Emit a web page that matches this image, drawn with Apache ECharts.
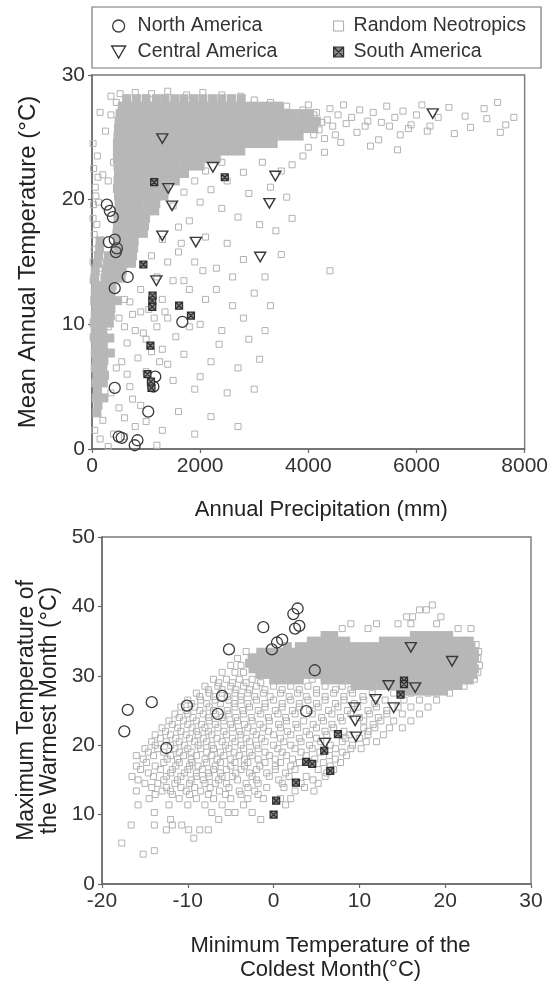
<!DOCTYPE html>
<html><head><meta charset="utf-8">
<script src="https://cdn.jsdelivr.net/npm/echarts@6/dist/echarts.min.js"></script>
<style>html,body{margin:0;padding:0;background:#fff}#c{width:551px;height:983px}</style>
</head><body><div id="c"></div>
<script>
// ===== TOP PANEL: Annual Precipitation (mm) vs Mean Annual Temperature (°C) =====
const topNorthAmerica = [[275,19.6],[385,18.6],[330,19.1],[310,16.6],[420,16.8],[460,16.1],[440,15.8],[660,13.8],[420,12.9],[1670,10.2],[420,4.9],[1170,5.8],[1135,5.0],[1040,3.0],[495,1.0],[550,0.9],[840,0.7],[790,0.3]];
const topCentralAmerica = [[1300,24.9],[2235,22.6],[1410,20.9],[1480,19.5],[1300,17.1],[1920,16.6],[3280,19.7],[3390,21.9],[3110,15.4],[1190,13.5],[6300,26.9]];
const topSouthAmerica = [[1150,21.4],[2455,21.8],[950,14.8],[1115,11.9],[1115,11.4],[1120,12.3],[1610,11.5],[1830,10.7],[1080,8.3],[1025,6.0],[1100,4.9],[1090,5.4]];
// dense core of Random Neotropics, rows: [temperature, precipitation values...]
const topNeoCoreRows = [
 [28.1,640,820,1000,1190,1350,1530,1700,1880,2050,2230,2400,2580,2760],
 [27.5,560,710,860,1010,1160,1320,1470,1620,1780,1930,2080,2240,2390,2540,2700,2850,3000,3160,3310,3460],
 [26.9,520,670,820,970,1130,1280,1430,1580,1740,1890,2040,2190,2350,2500,2650,2800,2960,3110,3260,3410,3560,3720,3880,4020],
 [26.3,500,650,800,950,1110,1260,1410,1560,1720,1870,2020,2170,2330,2480,2630,2780,2940,3090,3240,3390,3550,3700,3850,4000,4150],
 [25.7,490,640,790,940,1100,1250,1400,1550,1710,1860,2010,2160,2320,2470,2620,2770,2930,3080,3230,3380,3540,3690,3840,3960,4100],
 [25.1,480,630,780,930,1090,1240,1390,1540,1700,1850,2000,2150,2310,2460,2610,2760,2920,3070,3220,3370,3530,3680,3830],
 [24.5,470,620,770,920,1080,1230,1380,1530,1690,1840,1990,2140,2300,2450,2600,2750,2910,3060,3200,3350],
 [23.9,470,620,770,920,1080,1230,1380,1530,1690,1840,1990,2140,2300,2450,2600,2750],
 [23.3,470,620,770,920,1080,1230,1380,1530,1690,1840,1990,2140,2300],
 [22.7,480,630,780,930,1090,1240,1390,1540,1700,1850,2000],
 [22.1,490,640,790,940,1100,1250,1400,1550,1710],
 [21.5,480,630,780,930,1090,1240,1390,1540],
 [20.9,470,600,750,900,1060,1210,1360],
 [20.3,490,580,730,880,1040,1190,1330],
 [19.7,500,620,720,870,1030,1180],
 [19.1,490,600,700,850,1010,1160],
 [18.5,480,600,680,830,990],
 [17.9,470,560,660,810,970],
 [17.3,460,540,640,790,950],
 [16.7,150,480,630,780],
 [16.1,140,480,620,770],
 [15.5,120,300,450,600,750],
 [14.9,100,280,430,580,730],
 [14.3,60,260,410,560],
 [13.7,50,240,390,540],
 [13.1,70,220,370],
 [12.5,60,200,350],
 [11.9,50,190,330,470],
 [11.3,70,210,350],
 [10.7,60,200,340],
 [10.1,40,180,320],
 [9.5,60,200],
 [8.9,50,190,330],
 [8.3,70,210],
 [7.7,60,200,340],
 [7.1,80,220],
 [6.5,60,200],
 [5.9,90,230],
 [5.3,70,210],
 [4.7,100],
 [4.1,80,220],
 [3.5,110],
 [2.9,90]
];
const topNeoScatter = [[350,28.3],[450,27.8],[520,28.5],[800,28.6],[1100,28.5],[1400,28.7],[1750,28.4],[2050,28.6],[2400,28.4],[2750,28.3],[3000,28.0],[3300,27.8],[3600,27.5],[3900,27.2],[4100,26.8],[4200,25.6],[4350,26.4],[4500,25.2],[4700,26.1],[4900,25.4],[5100,26.3],[5300,24.8],[5500,25.9],[5700,25.2],[5900,26.0],[6200,25.5],[6400,26.6],[6700,25.3],[7000,25.8],[7250,27.3],[7300,26.5],[7550,25.4],[7800,26.6],[4000,24.2],[3900,23.5],[4300,23.8],[3700,22.8],[3500,22.3],[3150,23.0],[2800,22.2],[2500,21.5],[2900,20.5],[3300,21.0],[3600,20.2],[2200,20.8],[2000,19.8],[2400,19.3],[2700,18.6],[3100,18.0],[3400,17.5],[1800,18.3],[2100,17.0],[2500,16.5],[1600,15.8],[1900,15.0],[2300,14.5],[2800,15.2],[3200,13.8],[4400,14.3],[1500,13.5],[1800,12.8],[2100,12.0],[2600,11.5],[3000,12.5],[1400,10.5],[2000,10.0],[2400,9.5],[2900,8.8],[3200,9.5],[1300,8.0],[1700,7.6],[2200,7.0],[2700,6.5],[3100,7.2],[1500,5.5],[1900,4.8],[2500,4.5],[3000,4.8],[1600,3.0],[2200,2.6],[2700,1.8],[1300,1.5],[1900,1.2],[1200,0.3],[800,1.8],[600,2.5],[900,3.5],[700,5.0],[1000,6.2],[850,7.3],[1100,7.8],[650,8.5],[950,9.3],[1200,9.8],[750,10.8],[1050,11.2],[1300,12.0],[600,12.0],[900,12.8],[1200,13.8],[1400,15.0],[1100,15.5],[1300,16.8],[1600,17.8],[1500,19.5],[1700,20.6],[1900,21.5],[2100,22.3],[2400,23.0],[300,0.2],[150,0.8],[50,1.5],[200,2.3],[400,1.2],[500,3.3],[100,4.2],[350,4.5],[250,6.0],[450,6.5],[80,7.5],[20,9.0],[300,9.8],[500,10.5],[60,11.5],[20,13.5],[150,14.5],[40,16.0],[20,18.5],[120,19.8],[60,21.0],[30,22.5],[100,23.5],[200,22.0],[300,21.5],[400,23.0],[20,24.5],[250,25.5],[350,26.8],[150,27.0],[40,17.2],[90,18.0],[30,19.6],[70,20.3],[110,21.8],[20,15.0],[60,12.8],[550,7.0],[650,6.0],[800,9.5],[700,11.8],[600,9.8],[900,11.0],[1000,8.8],[1150,10.5],[1250,7.0],[750,4.0],[1000,2.2],[600,1.0],[1400,6.8],[1350,11.0],[1550,9.0],[1700,13.5],[1650,16.5],[1800,9.8],[2050,14.3],[2300,12.8],[2600,13.8],[2800,10.5],[2000,5.8],[2350,8.4],[3300,11.5],[3500,15.6],[3700,18.5],
 [4000,27.6],[4150,27.0],[4250,26.2],[4400,27.3],[4550,26.8],[4650,27.6],[4800,26.6],[4950,27.2],[5050,25.9],[5200,27.0],[5350,26.2],[5450,27.5],[5600,26.6],[5750,27.1],[5850,25.7],[6000,26.8],[6100,27.6],[6250,25.9],[4100,25.2],[4300,24.9],[4600,24.6],[3950,25.8],[4450,25.9],[5150,24.3],[5650,24.0],[6600,27.4],[6900,26.7],[7500,27.8],[7650,26.0]];

// ===== BOTTOM PANEL: Min Temp of Coldest Month vs Max Temp of Warmest Month =====
const botNorthAmerica = [[-17.0,25.1],[-17.4,22.0],[-14.2,26.2],[-10.1,25.7],[-6.0,27.1],[-6.5,24.5],[-5.2,33.8],[-1.2,37.0],[-0.2,33.8],[0.4,34.8],[1.0,35.2],[2.3,38.9],[2.8,39.7],[2.5,36.8],[3.0,37.2],[4.8,30.8],[3.8,24.9],[-12.5,19.6]];
const botCentralAmerica = [[16.0,34.1],[20.8,32.1],[13.4,28.6],[16.5,28.3],[11.9,26.6],[14.0,25.4],[9.4,25.4],[9.5,23.5],[9.6,21.2],[6.0,20.3]];
const botSouthAmerica = [[15.2,29.3],[15.2,28.8],[14.8,27.3],[7.5,21.6],[5.9,19.2],[3.8,17.6],[4.5,17.3],[6.6,16.3],[2.6,14.6],[0.3,12.0],[0.0,10.0]];
// dense core rows: [max temp, min temp values...]
const botNeoCoreRows = [
 [35.8,6.0,7.0,16.4,17.4,18.4,19.4,20.4],
 [35.0,4.4,5.4,6.4,7.4,8.4,12.8,13.8,14.8,15.8,16.8,17.8,18.8,19.8,20.8,21.8,22.8],
 [34.2,1.6,3.0,4.0,5.0,6.0,7.0,8.0,9.0,10.0,11.0,12.0,13.0,14.0,15.0,16.0,17.0,18.0,19.0,20.0,21.0,22.0,23.0],
 [33.4,-1.5,-0.5,0.5,1.5,2.5,3.5,4.5,5.5,6.5,7.5,8.5,9.5,10.5,11.5,12.5,13.5,14.5,15.5,16.5,17.5,18.5,19.5,20.5,21.5,22.5,23.4],
 [32.6,-2.5,-1.5,-0.5,0.5,1.5,2.5,3.5,4.5,5.5,6.5,7.5,8.5,9.5,10.5,11.5,12.5,13.5,14.5,15.5,16.5,17.5,18.5,19.5,20.5,21.5,22.5,23.4],
 [31.8,-2.8,-1.8,-0.8,0.2,1.2,2.2,3.2,4.2,5.2,6.2,7.2,8.2,9.2,10.2,11.2,12.2,13.2,14.2,15.2,16.2,17.2,18.2,19.2,20.2,21.2,22.2,23.2],
 [31.0,-2.4,-1.4,-0.4,0.6,1.6,2.6,3.6,4.6,5.6,6.6,7.6,8.6,9.6,10.6,11.6,12.6,13.6,14.6,15.6,16.6,17.6,18.6,19.6,20.6,21.6,22.6,23.4],
 [30.2,-1.6,-0.6,0.4,1.4,2.4,3.4,4.4,5.4,6.4,7.4,8.4,9.4,10.4,11.4,12.4,13.4,14.4,15.4,16.4,17.4,18.4,19.4,20.4,21.4,22.4,23.2],
 [29.4,0.0,1.0,2.0,3.0,6.0,7.0,8.0,9.0,10.0,11.0,12.0,13.0,14.0,15.0,16.0,17.0,18.0,19.0,20.0,21.0,22.0,22.8],
 [28.6,9.5,10.5,11.5,12.5,13.5,14.5,15.5,16.5,17.5,18.5,19.5,20.5,21.5],
 [27.8,14.8,15.8,16.8,17.8,18.8,19.8]
];
// scattered Random Neotropics rows: [max temp, min temp values...]
const botNeoScatterRows = [
 [4.3,-15.2],[4.8,-13.9],[5.9,-17.7],[6.6,-9.3],
 [7.8,-12.5,-9.9,-8.6,-7.6],
 [8.5,-16.6,-11.8,-13.9,-10.7],
 [9.3,-6.4,-1.5,-12.0],
 [10.3,-13.9,-7.2,-5.3,-4.5,-2.5],
 [11.4,-15.8,-12.2,-10.0,-8.0,-6.0,-3.5,1.4],
 [12.3,-14.5,-11.0,-9.0,-7.0,-5.0,-3.0,-1.2,0.8,2.0],
 [12.9,-13.8,-11.8,-9.8,-7.6,-5.6,-3.8,-1.8],
 [13.4,-16.0,-13.0,-12.0,-10.2,-8.5,-6.3,-4.0,-2.2,2.5,4.7],
 [13.9,-14.2,-12.5,-10.8,-9.2,-7.4,-5.2,-3.0,-0.8,1.2,3.6],
 [14.5,-15.0,-13.5,-11.5,-9.8,-8.0,-6.8,-5.5,-3.2,-1.8,1.0,3.2,5.2],
 [15.0,-15.8,-12.8,-11.2,-9.6,-8.2,-6.4,-4.2,-2.0,0.6,4.6],
 [15.5,-16.5,-14.0,-12.5,-10.8,-9.0,-7.5,-6.0,-4.8,-2.5,-0.5,1.8,3.8,6.0],
 [16.0,-14.6,-12.0,-10.4,-9.0,-7.6,-6.2,-4.4,-2.8,-0.8,1.4,6.2],
 [16.5,-15.5,-13.2,-11.8,-10.0,-8.3,-7.0,-5.5,-3.8,-2.0,0.2,2.5,5.2,7.0],
 [17.0,-16.0,-13.8,-11.4,-9.8,-8.8,-6.8,-5.0,-3.4,-1.6,0.2,2.0,6.6],
 [17.5,-14.8,-12.8,-11.0,-9.5,-7.8,-6.2,-4.5,-3.0,-1.0,0.8,3.0,5.8,7.8],
 [18.0,-15.2,-12.4,-11.2,-9.6,-8.0,-6.6,-5.0,-3.4,-1.8,0.2,2.2,4.8,7.2],
 [18.5,-16.0,-14.0,-12.0,-10.5,-9.0,-7.2,-5.8,-4.0,-2.5,-0.5,1.5,3.8,6.5,8.5],
 [19.0,-14.6,-12.8,-11.0,-9.6,-7.8,-6.2,-4.6,-2.8,-1.0,1.0,3.2,5.4,8.0],
 [19.5,-15.0,-13.5,-11.5,-10.0,-8.5,-7.0,-5.2,-3.5,-1.8,0.5,2.5,4.5,7.2,9.0,10.2],
 [20.0,-13.8,-12.0,-10.4,-8.8,-7.2,-5.6,-3.8,-2.0,0.0,2.0,4.2,6.6,9.2],
 [20.5,-14.2,-12.5,-11.0,-9.2,-7.8,-6.0,-4.5,-2.8,-1.0,1.2,3.2,5.5,8.0,10.8,12.0],
 [21.0,-13.2,-11.4,-9.8,-8.2,-6.6,-4.8,-3.2,-1.4,0.8,3.0,5.0,8.4,10.0],
 [21.5,-13.8,-12.0,-10.2,-8.8,-7.2,-5.5,-3.8,-2.0,0.0,2.0,4.2,6.2,8.8,11.0,12.8],
 [22.0,-12.6,-10.8,-9.0,-7.6,-5.8,-4.0,-2.4,-0.6,1.6,3.8,6.0,8.2,11.0],
 [22.5,-13.0,-11.2,-9.5,-8.0,-6.5,-4.8,-3.0,-1.2,0.8,2.8,5.0,7.0,10.5,11.8,13.5,15.0],
 [23.0,-11.8,-10.0,-8.4,-6.8,-5.0,-3.4,-1.6,0.6,2.6,4.6,6.8,11.6],
 [23.5,-12.2,-10.5,-9.0,-7.5,-5.8,-4.2,-2.5,-0.5,1.5,3.5,5.8,8.0,10.5,12.5,14.0,16.0],
 [24.0,-11.0,-9.4,-7.6,-6.0,-4.4,-2.6,-0.6,1.4,5.6,7.8,10.0,12.2],
 [24.5,-11.5,-10.0,-8.2,-6.8,-5.2,-3.5,-1.5,0.5,2.5,4.5,6.8,9.0,11.2,13.2,15.0,17.0],
 [25.0,-10.2,-8.6,-7.0,-5.4,-3.6,-1.8,0.2,2.2,4.2,6.4,8.6,11.0,13.2],
 [25.5,-10.8,-9.2,-7.5,-4.5,-2.8,-1.0,1.0,3.0,5.2,7.5,9.8,12.0,14.5,16.0,18.0],
 [26.0,-9.6,-7.8,-6.2,-4.6,-3.0,-1.0,1.0,3.0,5.0,7.2,9.4,11.8],
 [26.5,-10.0,-8.5,-6.8,-5.2,-3.8,-2.0,0.0,2.0,4.0,6.0,8.2,10.5,13.0,15.2,17.0,19.0],
 [27.0,-8.6,-7.0,-5.4,-3.8,-2.2,-0.4,1.8,3.8,6.0,8.2,10.4],
 [27.5,-9.0,-7.5,-6.0,-4.5,-3.0,-1.2,0.8,2.8,5.0,7.0,9.2,11.5,14.0,16.0,18.0,19.0,20.5],
 [28.0,-7.6,-6.0,-4.4,-2.8,-1.0,1.0,3.0,5.0,7.2,9.0],
 [28.5,-8.0,-6.5,-5.0,-3.5,-2.0,0.0,2.0,4.0,6.0,8.0,10.0,12.0,19.8,21.0,22.2],
 [29.0,-6.4,-4.8,-3.2,-1.5],
 [29.5,-7.0,-5.5,-4.0,-2.5,4.5,23.4],
 [30.5,-6.0,-4.5,-3.5,23.8],
 [31.5,-5.0,-3.8,24.0],
 [32.5,-4.2,23.8],
 [33.5,-3.2,23.9],
 [34.5,23.6],
 [36.8,8.0,11.0,21.5,23.0],
 [37.5,9.0,12.0,14.5,16.0,19.0],
 [38.5,15.5,16.2,19.5],
 [39.5,17.0,17.8],
 [40.2,18.5]
];

const rowsToPoints = rows => rows.flatMap(r => r.slice(1).map(x => [x, r[0]]));

const NEO = 'Random Neotropics', NA = 'North America', CA = 'Central America', SA = 'South America';
const triPath = 'path://M0,0L12,0L6,10.4Z';
const saPath = 'path://M0,0L10,0L10,10L0,10Z M0,0L10,10 M10,0L0,10';
const sqPath = 'path://M0,0L10,0L10,10L0,10Z';
const dark = '#3a3a3a';
const FONT = 'Liberation Sans, Arial, sans-serif';

const neoOutline = {color:'rgba(0,0,0,0)', borderColor:'#b2b2b2', borderWidth:1, opacity:1};
const neoCore = {color:'#b7b7b7', borderWidth:0, opacity:1};
const naStyle = {color:'rgba(0,0,0,0)', borderColor:dark, borderWidth:1.3, opacity:1};
const caStyle = {color:'rgba(0,0,0,0)', borderColor:dark, borderWidth:1.4, opacity:1};
const saStyle = {color:'#8a8a8a', borderColor:'#2e2e2e', borderWidth:1.2, opacity:1};

function axisCommon(){
  return {
    type:'value', splitLine:{show:false},
    axisLine:{show:true, onZero:false, lineStyle:{color:'#6a6a6a', width:1.5}},
    axisTick:{show:true, length:4, lineStyle:{color:'#6a6a6a', width:1.2}},
    axisLabel:{fontSize:21, color:'#333', fontFamily:FONT, margin:7, formatter: v => String(v)},
    nameLocation:'middle'
  };
}

function sc(name, data, sym, size, style, xi, z){
  return {type:'scatter', name, data, symbol:sym, symbolSize:size, itemStyle:style,
    xAxisIndex:xi, yAxisIndex:xi, z:z, silent:true, animation:false, large:false};
}

const chart = echarts.init(document.getElementById('c'));
chart.setOption({
  backgroundColor:'#fff',
  animation:false,
  textStyle:{fontFamily:FONT},
  grid:[
    {left:92, top:75, right:22, bottom:534, show:true, borderColor:'#7a7a7a', borderWidth:1.4},
    {left:102, top:537, right:20, bottom:82, show:true, borderColor:'#7a7a7a', borderWidth:1.4}
  ],
  legend:[
    {left:106, top:11, orient:'vertical', itemGap:6, itemWidth:28, itemHeight:12, selectedMode:false,
     textStyle:{fontSize:19.5, color:'#333', fontFamily:FONT},
     data:[{name:NA, icon:'circle', itemStyle:naStyle},{name:CA, icon:triPath, itemStyle:caStyle}]},
    {left:328, top:11, orient:'vertical', itemGap:6, itemWidth:20, itemHeight:10, selectedMode:false,
     textStyle:{fontSize:19.5, color:'#333', fontFamily:FONT},
     data:[{name:NEO, icon:sqPath, itemStyle:{color:'rgba(0,0,0,0)', borderColor:'#a8a8a8', borderWidth:1}},{name:SA, icon:saPath, itemStyle:saStyle}]}
  ],
  graphic:[{type:'rect', shape:{x:92, y:7, width:449, height:61}, style:{fill:'none', stroke:'#777', lineWidth:1.2}, silent:true}],
  xAxis:[
    Object.assign(axisCommon(), {gridIndex:0, min:0, max:8000, interval:2000,
      name:'Annual Precipitation (mm)', nameGap:50, nameTextStyle:{fontSize:22, color:'#222', fontFamily:FONT, padding:[0,0,0,26]}}),
    Object.assign(axisCommon(), {gridIndex:1, min:-20, max:30, interval:10,
      name:'Minimum Temperature of the\nColdest Month(°C)', nameGap:50, nameTextStyle:{fontSize:22, color:'#222', fontFamily:FONT, lineHeight:24, padding:[0,0,0,28]}})
  ],
  yAxis:[
    Object.assign(axisCommon(), {gridIndex:0, min:0, max:30, interval:10,
      name:'Mean Annual Temperature (°C)', nameGap:52, nameTextStyle:{fontSize:24, color:'#222', fontFamily:FONT}}),
    Object.assign(axisCommon(), {gridIndex:1, min:0, max:50, interval:10,
      name:'Maximum Temperature of\nthe Warmest Month (°C)', nameGap:38, nameTextStyle:{fontSize:23, color:'#222', fontFamily:FONT, lineHeight:23}})
  ],
  series:[
    sc(NEO, topNeoScatter, 'rect', 6, neoOutline, 0, 1),
    sc(NEO, rowsToPoints(topNeoCoreRows), 'rect', 9, neoCore, 0, 1),
    sc(NA, topNorthAmerica, 'circle', 11, naStyle, 0, 3),
    sc(CA, topCentralAmerica, triPath, [11,9.5], caStyle, 0, 3),
    sc(SA, topSouthAmerica, saPath, 7, saStyle, 0, 3),
    sc(NEO, rowsToPoints(botNeoScatterRows), 'rect', 6, neoOutline, 1, 1),
    sc(NEO, rowsToPoints(botNeoCoreRows), 'rect', 9, neoCore, 1, 1),
    sc(NA, botNorthAmerica, 'circle', 11, naStyle, 1, 3),
    sc(CA, botCentralAmerica, triPath, [11,9.5], caStyle, 1, 3),
    sc(SA, botSouthAmerica, saPath, 7, saStyle, 1, 3)
  ]
});
</script></body></html>
